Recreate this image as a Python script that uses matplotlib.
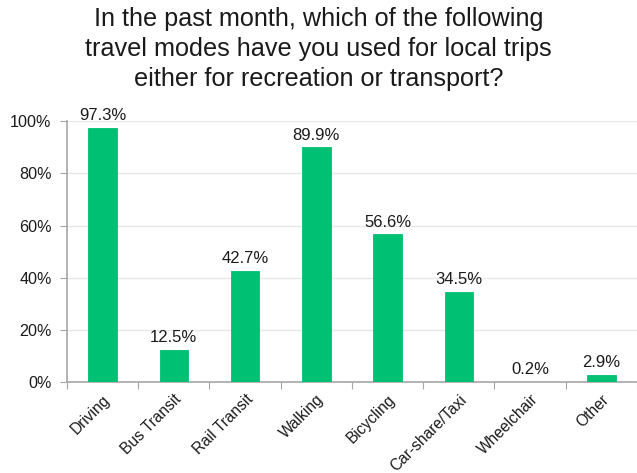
import matplotlib
matplotlib.use("Agg")
import matplotlib.pyplot as plt
import numpy as np

plt.rcParams['font.family'] = ['Liberation Sans', 'DejaVu Sans']

modes = ["Driving", "Bus Transit", "Rail Transit", "Walking", "Bicycling",
         "Car-share/Taxi", "Wheelchair", "Other"]
shares = [97.3, 12.5, 42.7, 89.9, 56.6, 34.5, 0.2, 2.9]
yticks = [0, 20, 40, 60, 80, 100]

green = "#00C074"
axis_grey = "#a6a6a6"
ink = "#1a1a1a"

fig = plt.figure(figsize=(6.37, 4.73), dpi=100)
ax = fig.add_axes([0.105, 0.192, 0.895, 0.552])

x = np.arange(len(modes))
ax.bar(x, shares, width=0.4, color=green, edgecolor=green, linewidth=0.6,
       zorder=3)

for xi, v in zip(x, shares):
    ax.text(xi, v + 1.8, f"{v:.1f}%", ha="center", va="bottom",
            fontsize=12, color=ink, zorder=4)

ax.set_xlim(-0.5, len(modes) - 0.5)
ax.set_ylim(0, 100)
ax.set_yticks(yticks)
ax.set_yticklabels([f"{t}%" for t in yticks], fontsize=11.6, color=ink)
ax.yaxis.grid(True, color="#e8e8e8", linewidth=1, zorder=0)

# category ticks sit on the boundaries, labels under the bar centres
ax.set_xticks(np.arange(len(modes) + 1) - 0.5)
ax.set_xticklabels([])
ax.set_xticks(x, minor=True)
ax.set_xticklabels(modes, minor=True, rotation=45, ha="right",
                   rotation_mode="anchor", fontsize=11.2, color=ink)
ax.tick_params(axis="x", which="minor", length=0, pad=7)
ax.tick_params(axis="x", which="major", length=5, color=axis_grey)
ax.tick_params(axis="y", length=5, color=axis_grey, pad=6)

for s in ["top", "right"]:
    ax.spines[s].set_visible(False)
for s in ["left", "bottom"]:
    ax.spines[s].set_color(axis_grey)
    ax.spines[s].set_linewidth(1.2)

fig.text(0.5, 0.985,
         "In the past month, which of the following\n"
         "travel modes have you used for local trips\n"
         "either for recreation or transport?",
         ha="center", va="top", fontsize=18.2, color=ink,
         linespacing=1.32)

fig.savefig("out.png", dpi=100)
